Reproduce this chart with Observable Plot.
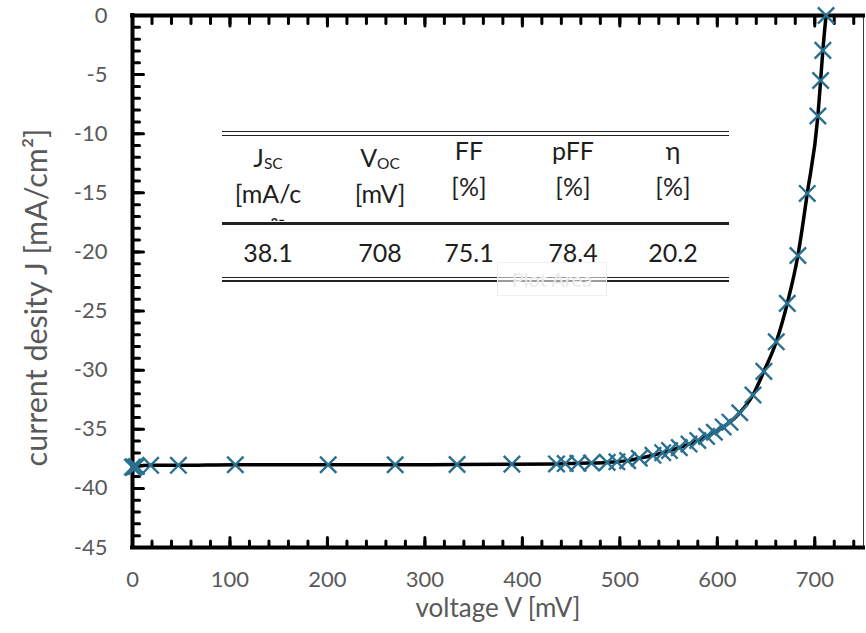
<!DOCTYPE html>
<html>
<head>
<meta charset="utf-8">
<script src="https://cdn.jsdelivr.net/npm/d3@7"></script>
<script src="https://cdn.jsdelivr.net/npm/@observablehq/plot@0.6"></script>
<style>
  body { margin: 0; background: #fff; }
  #wrap { position: relative; width: 866px; height: 633px; overflow: hidden; font-family: Lato, "Open Sans", sans-serif; }
  #wrap svg { position: absolute; left: 0; top: 0; }
  .hl { position: absolute; background: #222; }
  .cell { position: absolute; width: 130px; text-align: center; font-size: 25px; line-height: 30px; height: 30px; color: #1e1e1e; white-space: nowrap; }
  .sub { font-size: 0.62em; vertical-align: -0.12em; }
  .clip { position: absolute; overflow: hidden; }
  .over { position: absolute; width: 130px; height: 7px; overflow: hidden; text-align: center; font-size: 25px; line-height: 30px; color: #1e1e1e; white-space: nowrap; }
  #tip { position: absolute; left: 497px; top: 262px; width: 108px; height: 32px; border: 1px solid #f0f0f0; background: rgba(255,255,255,0.55); color: #ebebeb; font-size: 20px; line-height: 32px; text-align: center; }
</style>
</head>
<body>
<div id="wrap"></div>
<script>
// ---- data ----
const voltage = [0, 1.5, 4, 18.6, 47.1, 105.5, 200.8, 269.5, 333, 389.3, 435, 444, 457, 471, 487, 497, 508, 520, 534, 544, 551, 561, 571, 580, 589, 597, 606, 613, 623, 636.6, 647.8, 660.5, 671.8, 682.7, 692.3, 703.2, 706, 708.3, 711.6];
const currentDensity = [-38.2, -38.2, -38.15, -38.05, -38.05, -38.0, -38.0, -38.0, -37.98, -37.95, -37.93, -37.9, -37.88, -37.85, -37.8, -37.75, -37.65, -37.45, -37.2, -36.98, -36.8, -36.55, -36.25, -35.95, -35.6, -35.25, -34.8, -34.4, -33.6, -32.1, -30.1, -27.6, -24.35, -20.3, -15.05, -8.5, -5.5, -2.95, 0];

const xMajorTicks = [0, 100, 200, 300, 400, 500, 600, 700];
const yMajorTicks = [0, -5, -10, -15, -20, -25, -30, -35, -40, -45];
const xMinorTicks = d3.range(0, 750, 20);
const yMinorTicks = d3.range(0, -45, -1);

const xTitle = "voltage V [mV]";
const yTitle = "current desity J [mA/cm²]";

const tableSymbols = ["J", "V", "FF", "pFF", "η"];
const tableSubscripts = ["SC", "OC", "", "", ""];
const tableUnits = ["[mA/c", "[mV]", "[%]", "[%]", "[%]"];
const tableUnitsOverflow = ["m²]", "", "", "", ""];
const tableValues = ["38.1", "708", "75.1", "78.4", "20.2"];

const data = voltage.map((v, i) => ({v, j: currentDensity[i]}));

// ---- chart ----
const tickShape = {draw(context, l) { context.moveTo(0, 0); context.lineTo(0, -l); }};
const spine = {stroke: "black", strokeWidth: 4, strokeLinecap: "square"};
const tk = (ticks, anchor, rotate, length) => Plot.vector(ticks, {
  [anchor === "left" ? "y" : "x"]: d => d,
  frameAnchor: anchor, rotate, length, anchor: "start", shape: tickShape,
  stroke: "black", strokeWidth: 3
});

const chart = Plot.plot({
  width: 866,
  height: 633,
  marginLeft: 132,
  marginRight: 3,
  marginTop: 15,
  marginBottom: 86,
  style: {fontFamily: "Lato, 'Open Sans', sans-serif", background: "transparent", overflow: "visible"},
  x: {domain: [0, 750]},
  y: {domain: [-45, 0]},
  marks: [
    Plot.ruleX([750], {stroke: "#3a3a3a", strokeWidth: 1}),
    tk(xMinorTicks, "bottom", 0, 6.5),
    tk(xMajorTicks, "bottom", 0, 10),
    tk(xMinorTicks, "top", 180, 8),
    tk(xMajorTicks, "top", 180, 10.5),
    tk(yMinorTicks, "left", 90, 7),
    tk(yMajorTicks, "left", 90, 11),
    Plot.ruleX([0], spine),
    Plot.ruleY([0], spine),
    Plot.ruleY([-45], spine),
    Plot.axisX({ticks: xMajorTicks, tickSize: 0, tickPadding: 24, fontSize: 22, color: "#595959", label: null}),
    Plot.axisY({ticks: yMajorTicks, tickSize: 0, tickPadding: 25, fontSize: 22, color: "#595959", label: null, tickFormat: d => String(d)}),
    Plot.text([xTitle], {frameAnchor: "bottom", textAnchor: "middle", dy: 61, fontSize: 26, fill: "#595959", lineAnchor: "middle"}),
    Plot.text([yTitle], {frameAnchor: "left", textAnchor: "middle", rotate: -90, dx: -95, dy: 16, fontSize: 30.5, fill: "#595959", lineAnchor: "middle"}),
    Plot.line(data, {x: "v", y: "j", curve: "monotone-x", stroke: "black", strokeWidth: 3.5}),
    Plot.dot(data, {x: "v", y: "j", symbol: "times", r: 7.5, stroke: "#2a7090", strokeWidth: 2.4})
  ]
});
const wrap = document.getElementById("wrap");
wrap.appendChild(chart);

// ---- inset table ----
function hline(top, h) {
  const d = document.createElement("div");
  d.className = "hl";
  Object.assign(d.style, {left: "222px", width: "507px", top: top + "px", height: h + "px"});
  wrap.appendChild(d);
}
hline(131, 1.4); hline(134.6, 1.4);
hline(221.8, 2.8);
hline(276.6, 1.4); hline(280.2, 1.4);

const colCenters = [268, 380, 469, 573, 673];
function cell(parent, html, cx, top, cls = "cell") {
  const d = document.createElement("div");
  d.className = cls;
  d.innerHTML = html;
  d.style.left = (cx - 65) + "px";
  d.style.top = top + "px";
  parent.appendChild(d);
}

tableSymbols.forEach((s, i) => {
  const shifted = tableSubscripts[i] !== "";
  const t1 = shifted ? 142 : 135;
  const t2 = shifted ? 178 : 171;
  const sub = tableSubscripts[i] ? `<span class="sub">${tableSubscripts[i]}</span>` : "";
  cell(wrap, s + sub, colCenters[i], t1);
  cell(wrap, tableUnits[i], colCenters[i], t2);
  if (tableUnitsOverflow[i]) cell(wrap, tableUnitsOverflow[i], colCenters[i], 214, "over");
  cell(wrap, tableValues[i], colCenters[i], 237);
});

const tip = document.createElement("div");
tip.id = "tip";
tip.textContent = "Plot Area";
wrap.appendChild(tip);
</script>
</body>
</html>
